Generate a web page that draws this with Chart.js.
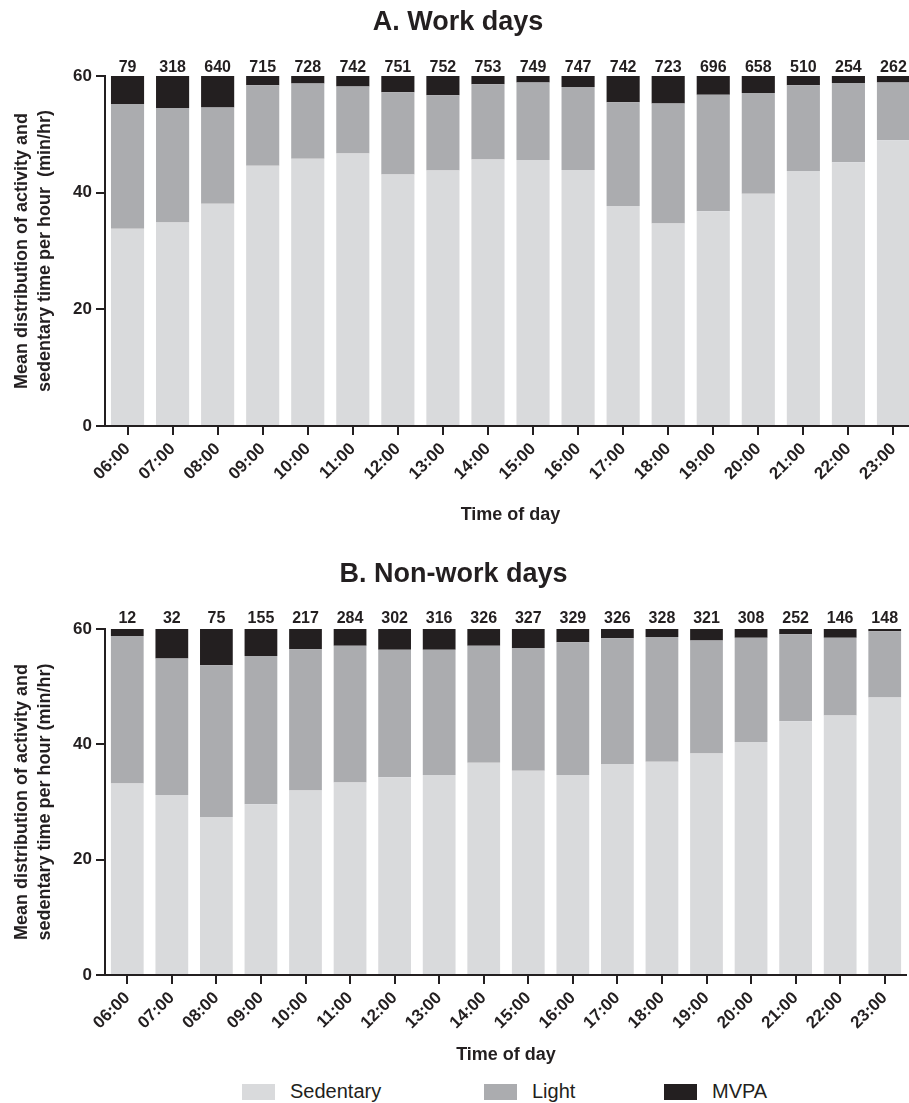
<!DOCTYPE html>
<html>
<head>
<meta charset="utf-8">
<script src="https://cdn.jsdelivr.net/npm/chart.js@4/dist/chart.umd.min.js"></script>
<style>
  html, body { margin: 0; padding: 0; background: #fff; overflow: hidden; }
  body { width: 909px; height: 1103px; position: relative; font-family: "Liberation Sans", Arial, sans-serif; }
  .panel { position: absolute; left: 0; }
  #panelA { top: 0; width: 916px; height: 530px; }
  #panelB { top: 530px; width: 907px; height: 540px; }
  #legend { position: absolute; top: 1083px; left: 0; width: 909px; height: 18px; }
  .lg-item { position: absolute; top: 0; display: flex; align-items: center; height: 17px; }
  .lg-box { width: 33px; height: 16px; margin-right: 15px; }
  .lg-text { font-size: 20px; color: #231f20; line-height: 17px; }
</style>
</head>
<body>
<div class="panel" id="panelA"><canvas id="chartA"></canvas></div>
<div class="panel" id="panelB"><canvas id="chartB"></canvas></div>
<div id="legend"></div>

<script>
const HOURS = ['06:00', '07:00', '08:00', '09:00', '10:00', '11:00', '12:00', '13:00', '14:00',
               '15:00', '16:00', '17:00', '18:00', '19:00', '20:00', '21:00', '22:00', '23:00'];
const SERIES = ['Sedentary', 'Light', 'MVPA'];
const COLORS = ['#d9dadc', '#abacaf', '#231f20'];
const Y_TICKS = [0, 20, 40, 60];

// A. work days (min/hr)
const WORK_SED   = [33.8, 34.9, 38.1, 44.6, 45.8, 46.7, 43.1, 43.8, 45.7, 45.6, 43.9, 37.7, 34.7, 36.8, 39.8, 43.7, 45.2, 49.0];
const WORK_LIGHT = [21.4, 19.6, 16.5, 13.8, 12.9, 11.5, 14.1, 12.9, 12.9, 13.3, 14.2, 17.8, 20.6, 20.0, 17.3, 14.7, 13.6,  9.9];
const WORK_MVPA  = [ 4.8,  5.5,  5.4,  1.6,  1.3,  1.8,  2.8,  3.3,  1.4,  1.1,  1.9,  4.5,  4.7,  3.2,  2.9,  1.6,  1.2,  1.1];
const WORK_N     = [79, 318, 640, 715, 728, 742, 751, 752, 753, 749, 747, 742, 723, 696, 658, 510, 254, 262];

// B. non-work days (min/hr)
const OFF_SED    = [33.2, 31.2, 27.4, 29.6, 32.0, 33.4, 34.3, 34.7, 36.8, 35.4, 34.7, 36.6, 37.0, 38.4, 40.4, 44.0, 45.0, 48.1];
const OFF_LIGHT  = [25.6, 23.7, 26.3, 25.7, 24.5, 23.7, 22.1, 21.7, 20.3, 21.3, 23.0, 21.8, 21.6, 19.6, 18.1, 15.1, 13.5, 11.5];
const OFF_MVPA   = [ 1.2,  5.1,  6.3,  4.7,  3.5,  2.9,  3.6,  3.6,  2.9,  3.3,  2.3,  1.6,  1.4,  2.0,  1.5,  0.9,  1.5,  0.4];
const OFF_N      = [12, 32, 75, 155, 217, 284, 302, 316, 326, 327, 329, 326, 328, 321, 308, 252, 146, 148];

const INK  = '#231f20';
const FONT = '"Liberation Sans", Arial, sans-serif';

// n per hour printed above each bar
const countLabels = {
  id: 'countLabels',
  afterDatasetsDraw(chart, args, opts) {
    const { ctx, chartArea, scales: { x } } = chart;
    ctx.save();
    ctx.fillStyle = INK;
    ctx.font = `bold 16px ${FONT}`;
    ctx.textAlign = 'center';
    ctx.textBaseline = 'alphabetic';
    opts.counts.forEach((n, i) => {
      ctx.fillText(String(n), x.getPixelForValue(i), chartArea.top - opts.gap);
    });
    ctx.restore();
  }
};

function makeChart(id, title, yTitle, sed, light, mvpa, counts, lay) {
  const values = [sed, light, mvpa];
  return new Chart(document.getElementById(id), {
    type: 'bar',
    data: {
      labels: HOURS,
      datasets: SERIES.map((name, k) => ({
        label: name,
        data: values[k],
        backgroundColor: COLORS[k],
        borderWidth: 0,
        categoryPercentage: 1,
        barPercentage: 0.735,
      }))
    },
    plugins: [countLabels],
    options: {
      responsive: true,
      maintainAspectRatio: false,
      animation: false,
      layout: { padding: 0 },
      plugins: {
        legend: { display: false },
        tooltip: { enabled: false },
        title: {
          display: true,
          text: title,
          color: INK,
          font: { family: FONT, size: 27, weight: 'bold' },
          padding: { top: lay.titleTop, bottom: lay.titleBottom },
        },
        countLabels: { counts, gap: lay.countGap },
      },
      scales: {
        x: {
          stacked: true,
          afterFit: s => { s.height = lay.xHeight; },
          border: { display: true, color: INK, width: 2 },
          grid: { display: true, offset: false, drawOnChartArea: false, drawTicks: true, tickLength: 9, color: INK, lineWidth: 2 },
          ticks: { color: INK, font: { family: FONT, size: 17, weight: 'bold' }, maxRotation: 45, minRotation: 45, padding: 4, autoSkip: false },
          title: {
            display: true, text: 'Time of day', color: INK,
            font: { family: FONT, size: 18, weight: 'bold' },
            padding: { top: 0, bottom: 4 },
          },
        },
        y: {
          stacked: true,
          min: 0,
          max: 60,
          afterFit: s => { s.width = 105; },
          afterBuildTicks: s => { s.ticks = Y_TICKS.map(v => ({ value: v })); },
          border: { display: true, color: INK, width: 2 },
          grid: { display: true, drawOnChartArea: false, drawTicks: true, tickLength: 9, color: INK, lineWidth: 2 },
          ticks: { color: INK, font: { family: FONT, size: 17, weight: 'bold' }, padding: 4 },
          title: {
            display: true, text: yTitle, color: INK,
            font: { family: FONT, size: 18, weight: 'bold', lineHeight: '23px' },
            padding: { top: 11, bottom: 0 },
          },
        },
      },
    },
  });
}

makeChart('chartA', 'A. Work days',
  ['Mean distribution of activity and', 'sedentary time per hour  (min/hr)'],
  WORK_SED, WORK_LIGHT, WORK_MVPA, WORK_N,
  { titleTop: 6, titleBottom: 37.6, countGap: 4, xHeight: 104 });

makeChart('chartB', 'B. Non-work days',
  ['Mean distribution of activity and', 'sedentary time per hour (min/hr)'],
  OFF_SED, OFF_LIGHT, OFF_MVPA, OFF_N,
  { titleTop: 28, titleBottom: 38.6, countGap: 6, xHeight: 95 });

// shared legend under panel B
const LEGEND_X = [242, 484, 664];
const legend = document.getElementById('legend');
SERIES.forEach((name, k) => {
  const item = document.createElement('div');
  item.className = 'lg-item';
  item.style.left = LEGEND_X[k] + 'px';
  item.innerHTML = `<div class="lg-box" style="background:${COLORS[k]}"></div><span class="lg-text">${name}</span>`;
  legend.appendChild(item);
});
</script>
</body>
</html>
